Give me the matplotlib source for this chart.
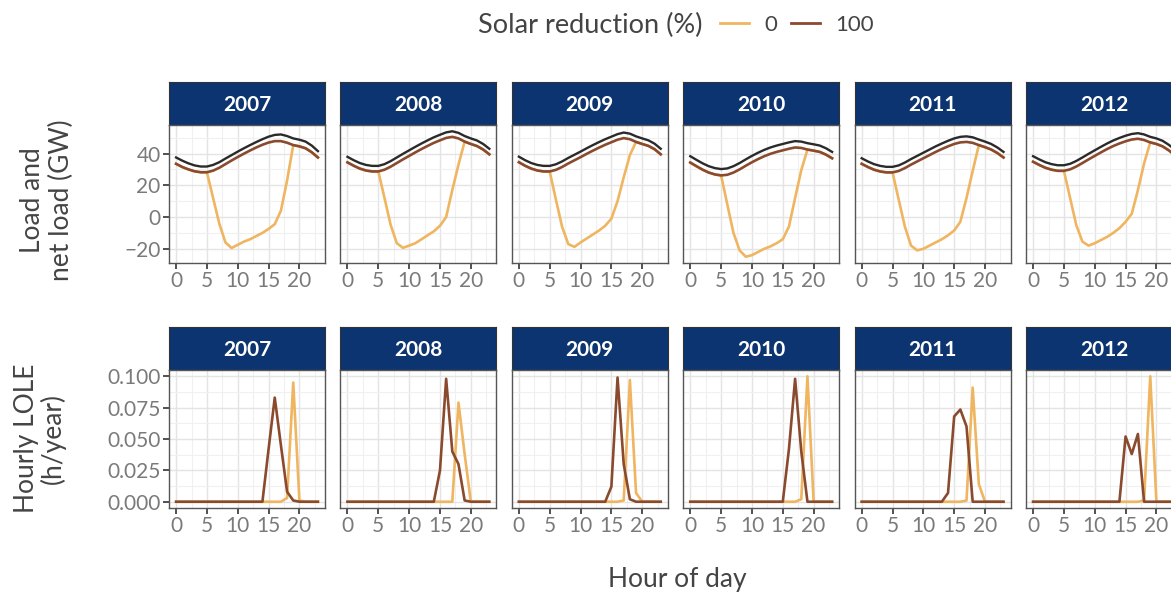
import matplotlib
matplotlib.use("Agg")
import matplotlib.pyplot as plt
from matplotlib.lines import Line2D
from matplotlib.ticker import MultipleLocator

plt.rcParams['font.family'] = ['Lato', 'DejaVu Sans']

years = [2007, 2008, 2009, 2010, 2011, 2012]
hours = list(range(24))

# Load (GW), no solar
load = {
    2007: [37.5, 35.5, 33.8, 32.5, 31.8, 31.8, 32.8, 34.5, 36.8, 39.0, 41.2, 43.3,
           45.3, 47.2, 49.0, 50.6, 51.7, 52.0, 51.0, 49.5, 48.7, 47.5, 45.0, 41.5],
    2008: [37.9, 35.8, 34.0, 32.8, 32.2, 32.2, 33.3, 35.2, 37.5, 39.8, 42.0, 44.2,
           46.3, 48.3, 50.2, 51.8, 53.3, 54.0, 53.0, 51.0, 49.5, 48.2, 46.0, 43.0],
    2009: [38.0, 35.8, 34.0, 32.8, 32.2, 32.2, 33.2, 35.0, 37.2, 39.2, 41.2, 43.3,
           45.3, 47.2, 49.0, 50.6, 52.2, 53.2, 52.5, 50.8, 49.5, 48.3, 46.2, 43.0],
    2010: [38.3, 36.0, 33.8, 32.0, 30.8, 30.2, 30.6, 32.0, 34.0, 36.3, 38.5, 40.5,
           42.3, 43.8, 45.0, 46.0, 47.0, 47.8, 47.5, 46.5, 45.8, 45.0, 43.3, 41.0],
    2011: [37.0, 35.0, 33.3, 32.2, 31.6, 31.6, 32.5, 34.3, 36.5, 38.5, 40.5, 42.5,
           44.5, 46.3, 48.0, 49.5, 50.5, 50.8, 50.2, 48.8, 47.5, 46.0, 43.8, 41.0],
    2012: [38.3, 36.3, 34.5, 33.3, 32.6, 32.6, 33.5, 35.3, 37.5, 39.8, 42.0, 44.2,
           46.3, 48.2, 49.8, 51.2, 52.3, 52.8, 52.0, 50.5, 49.5, 48.0, 45.5, 42.5],
}

# Net load (GW), 100 % solar reduction
net_100 = {
    2007: [33.5, 31.5, 30.0, 28.8, 28.2, 28.2, 29.2, 31.0, 33.3, 35.6, 37.8, 39.9,
           41.9, 43.8, 45.5, 46.9, 47.8, 47.8, 46.8, 45.3, 44.5, 43.3, 40.8, 37.5],
    2008: [34.4, 32.3, 30.5, 29.3, 28.7, 28.7, 29.8, 31.7, 34.0, 36.3, 38.5, 40.7,
           42.8, 44.8, 46.7, 48.3, 49.8, 50.5, 49.5, 47.5, 46.0, 44.7, 42.5, 39.5],
    2009: [34.5, 32.3, 30.5, 29.3, 28.7, 28.7, 29.7, 31.5, 33.7, 35.7, 37.7, 39.8,
           41.8, 43.7, 45.5, 47.1, 48.7, 49.7, 49.0, 47.3, 46.0, 44.8, 42.7, 39.5],
    2010: [34.3, 32.0, 29.8, 28.0, 26.8, 26.2, 26.6, 28.0, 30.0, 32.3, 34.5, 36.5,
           38.3, 39.8, 41.0, 42.0, 43.0, 43.8, 43.5, 42.5, 41.8, 41.0, 39.3, 37.0],
    2011: [33.5, 31.5, 29.8, 28.7, 28.1, 28.1, 29.0, 30.8, 33.0, 35.0, 37.0, 39.0,
           41.0, 42.8, 44.5, 46.0, 47.0, 47.3, 46.7, 45.3, 44.0, 42.5, 40.3, 37.5],
    2012: [34.8, 32.8, 31.0, 29.8, 29.1, 29.1, 30.0, 31.8, 34.0, 36.3, 38.5, 40.7,
           42.8, 44.7, 46.3, 47.7, 48.8, 49.3, 48.5, 47.0, 46.0, 44.5, 42.0, 39.0],
}

# Net load (GW), 0 % solar reduction
net_0 = {
    2007: [33.5, 31.5, 30.0, 28.8, 28.2, 28.2, 12.0, -4.0, -16.0, -19.5, -17.5, -15.5,
           -14.0, -12.0, -10.0, -7.5, -4.5, 4.0, 23.0, 45.3, 44.5, 43.3, 40.8, 37.5],
    2008: [34.4, 32.3, 30.5, 29.3, 28.7, 28.7, 12.0, -5.0, -16.5, -19.4, -18.0, -16.5,
           -14.0, -11.5, -9.0, -5.5, 0.0, 17.0, 33.0, 47.5, 46.0, 44.7, 42.5, 39.5],
    2009: [34.5, 32.3, 30.5, 29.3, 28.7, 28.7, 11.0, -6.0, -17.0, -18.8, -16.0, -13.5,
           -11.0, -8.5, -5.5, -1.0, 10.0, 25.0, 39.0, 47.3, 46.0, 44.8, 42.7, 39.5],
    2010: [34.3, 32.0, 29.8, 28.0, 26.8, 26.2, 8.0, -10.0, -21.0, -25.0, -24.0, -22.0,
           -20.0, -18.5, -16.5, -14.0, -6.0, 12.0, 29.5, 42.5, 41.8, 41.0, 39.3, 37.0],
    2011: [33.5, 31.5, 29.8, 28.7, 28.1, 28.1, 11.0, -6.0, -18.0, -21.0, -20.0, -18.0,
           -16.0, -14.0, -11.5, -8.5, -3.0, 12.0, 29.0, 45.3, 44.0, 42.5, 40.3, 37.5],
    2012: [34.8, 32.8, 31.0, 29.8, 29.1, 29.1, 12.0, -5.0, -15.5, -18.0, -16.5, -14.5,
           -12.5, -10.0, -7.0, -3.0, 2.0, 17.0, 33.7, 47.0, 46.0, 44.5, 42.0, 39.0],
}

# Hourly LOLE (h/year)
lole_0 = {
    2007: [0] * 17 + [0.0, 0.003, 0.095, 0.001, 0.0, 0.0, 0.0],
    2008: [0] * 17 + [0.0, 0.079, 0.038, 0.0, 0.0, 0.0, 0.0],
    2009: [0] * 17 + [0.001, 0.097, 0.007, 0.0, 0.0, 0.0, 0.0],
    2010: [0] * 17 + [0.0, 0.002, 0.100, 0.0, 0.0, 0.0, 0.0],
    2011: [0] * 17 + [0.001, 0.091, 0.014, 0.0, 0.0, 0.0, 0.0],
    2012: [0] * 17 + [0.0, 0.001, 0.100, 0.0, 0.0, 0.0, 0.0],
}
lole_100 = {
    2007: [0] * 14 + [0.0, 0.042, 0.083, 0.045, 0.008, 0.001, 0.0, 0.0, 0.0, 0.0],
    2008: [0] * 14 + [0.0, 0.025, 0.098, 0.040, 0.030, 0.001, 0.0, 0.0, 0.0, 0.0],
    2009: [0] * 14 + [0.0, 0.012, 0.099, 0.030, 0.002, 0.0, 0.0, 0.0, 0.0, 0.0],
    2010: [0] * 14 + [0.0, 0.0, 0.042, 0.098, 0.040, 0.0, 0.0, 0.0, 0.0, 0.0],
    2011: [0] * 13 + [0.0, 0.007, 0.068, 0.0735, 0.060, 0.0, 0.0, 0.0, 0.0, 0.0, 0.0],
    2012: [0] * 14 + [0.0, 0.052, 0.038, 0.054, 0.0, 0.0, 0.0, 0.0, 0.0, 0.0],
}

YELLOW = '#EFB560'
BROWN = '#8A4A2E'
BLACK = '#2A2A2A'
NAVY = '#0B3470'
TICK_TXT = '#7A7A7A'
TITLE_TXT = '#444444'

W, H = 1171, 592
fig = plt.figure(figsize=(W / 100, H / 100), dpi=100)


def px_axes(left, top, width, height):
    return fig.add_axes([left / W, 1 - (top + height) / H, width / W, height / H])


def style(ax, first):
    ax.set_facecolor('white')
    ax.set_xlim(-1.15, 24.15)
    ax.xaxis.set_major_locator(MultipleLocator(5))
    ax.xaxis.set_minor_locator(MultipleLocator(2.5))
    ax.grid(which='major', color='#E4E4E4', lw=1.0)
    ax.grid(which='minor', color='#F0F0F0', lw=0.8)
    ax.set_axisbelow(True)
    for s in ax.spines.values():
        s.set_color('#555555')
        s.set_linewidth(1.0)
    ax.tick_params(which='major', length=4, width=1.2, color='#333333',
                   labelcolor=TICK_TXT, labelsize=15, pad=2)
    ax.tick_params(which='minor', length=0)
    if not first:
        ax.tick_params(axis='y', which='both', left=False, labelleft=False)


def strip(left, top, width, year):
    sax = px_axes(left, top, width, 43)
    sax.set_facecolor(NAVY)
    sax.set_xticks([])
    sax.set_yticks([])
    for s in sax.spines.values():
        s.set_color('#333333')
        s.set_linewidth(0.8)
    sax.text(0.5, 0.47, str(year), transform=sax.transAxes, ha='center', va='center',
             color='white', fontsize=15, fontweight='bold')


panel_w, panel_h = 156, 138
pitch = 171.4
for i, yr in enumerate(years):
    left = 169 + i * pitch

    # load and net load
    strip(left, 82, panel_w, yr)
    ax = px_axes(left, 125, panel_w, panel_h)
    style(ax, i == 0)
    ax.plot(hours, net_0[yr], color=YELLOW, lw=1.9, solid_joinstyle='round')
    ax.plot(hours, net_100[yr], color=BROWN, lw=1.9, solid_joinstyle='round')
    ax.plot(hours, load[yr], color=BLACK, lw=1.7, solid_joinstyle='round')
    ax.set_ylim(-28.95, 57.95)
    ax.yaxis.set_major_locator(MultipleLocator(20))
    ax.yaxis.set_minor_locator(MultipleLocator(10))

    # hourly LOLE
    strip(left, 327, panel_w, yr)
    bx = px_axes(left, 370, panel_w, panel_h)
    style(bx, i == 0)
    bx.plot(hours, lole_0[yr], color=YELLOW, lw=1.9, solid_joinstyle='round')
    bx.plot(hours, lole_100[yr], color=BROWN, lw=1.9, solid_joinstyle='round')
    bx.set_ylim(-0.005, 0.105)
    bx.yaxis.set_major_locator(MultipleLocator(0.025))
    bx.yaxis.set_minor_locator(MultipleLocator(0.0125))
    bx.yaxis.set_major_formatter(lambda v, p: f'{v:.3f}')

fig.text(47 / W, 1 - 200 / H, 'Load and\nnet load (GW)', rotation=90, ha='center',
         va='center', multialignment='center', fontsize=19, color=TITLE_TXT,
         linespacing=1.15)
fig.text(40 / W, 1 - 438 / H, 'Hourly LOLE\n(h/year)', rotation=90, ha='center',
         va='center', multialignment='center', fontsize=19, color=TITLE_TXT,
         linespacing=1.0)
fig.text(677 / W, 1 - 580 / H, 'Hour of day', ha='center', va='center',
         fontsize=19, color=TITLE_TXT)

# legend
fig.text(478 / W, 1 - 25 / H, 'Solar reduction (%)', ha='left', va='center',
         fontsize=19.5, color=TITLE_TXT)
handles = [Line2D([], [], color=YELLOW, lw=2), Line2D([], [], color=BROWN, lw=2)]
fig.legend(handles, ['0', '100'], ncol=2, loc='center left',
           bbox_to_anchor=(720 / W, 1 - 25 / H), frameon=False, fontsize=16,
           handlelength=1.3, handletextpad=0.7, columnspacing=0.6,
           borderpad=0, borderaxespad=0, labelcolor=TITLE_TXT)

fig.savefig('out.png', dpi=100, facecolor='white')
